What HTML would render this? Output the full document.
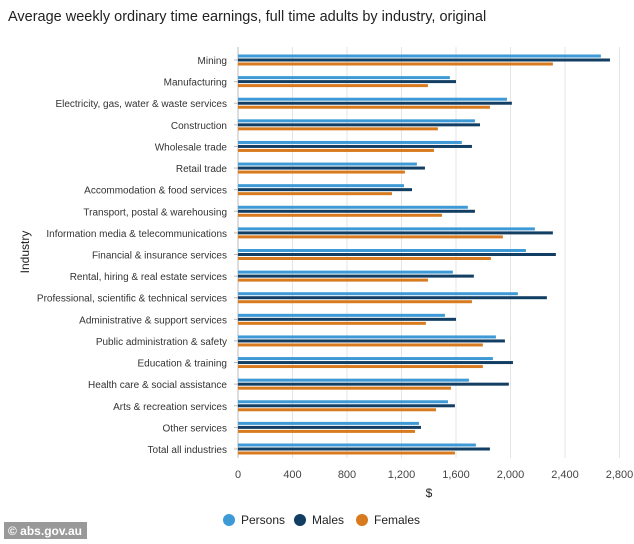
<!DOCTYPE html>
<html><head><meta charset="utf-8"><style>
body{margin:0;background:#fff;font-family:"Liberation Sans",sans-serif}
svg text{font-family:"Liberation Sans",sans-serif}
</style></head><body>
<svg id="c" width="634" height="539" viewBox="0 0 634 539">
<text x="8" y="21" font-size="14.5" fill="#222">Average weekly ordinary time earnings, full time adults by industry, original</text>
<text transform="translate(29,252) rotate(-90)" text-anchor="middle" font-size="12" fill="#222">Industry</text>
<text x="429" y="497" text-anchor="middle" font-size="12" fill="#222">$</text>
<g id="grid"></g><g id="bars"></g><g id="labels"></g>
<g>
<g><circle cx="229" cy="520" r="6" fill="#3d9ad6"/><text x="241" y="524" font-size="12" fill="#222">Persons</text></g>
<g><circle cx="300" cy="520" r="6" fill="#123e63"/><text x="312" y="524" font-size="12" fill="#222">Males</text></g>
<g><circle cx="362" cy="520" r="6" fill="#d87a1e"/><text x="374" y="524" font-size="12" fill="#222">Females</text></g>
</g>
<g><rect x="4" y="522" width="83" height="17" fill="#999"/><text x="8" y="535" font-size="12" font-weight="bold" fill="#fff">© abs.gov.au</text></g>
</svg>
<script>
const categories=["Mining","Manufacturing","Electricity, gas, water & waste services","Construction","Wholesale trade","Retail trade","Accommodation & food services","Transport, postal & warehousing","Information media & telecommunications","Financial & insurance services","Rental, hiring & real estate services","Professional, scientific & technical services","Administrative & support services","Public administration & safety","Education & training","Health care & social assistance","Arts & recreation services","Other services","Total all industries"];
const persons=[2663,1555,1974,1739,1643,1313,1218,1687,2179,2113,1577,2054,1519,1893,1871,1695,1541,1328,1746];
const males=[2730,1600,2010,1776,1717,1372,1277,1739,2311,2333,1731,2267,1600,1959,2018,1988,1592,1343,1849];
const females=[2311,1394,1849,1467,1438,1225,1130,1497,1944,1856,1394,1717,1379,1797,1797,1563,1453,1299,1592];
const ticks=[0,400,800,1200,1600,2000,2400,2800];
const tickLabels=["0","400","800","1,200","1,600","2,000","2,400","2,800"];
const NS="http://www.w3.org/2000/svg";
const x0=238,x1=619.5,yTop=47,yBot=458;
function xs(v){return x0+v/2800*(x1-x0);}
function yc(i){return 60+i*(449-60)/(categories.length-1);}
function mk(t,a,p){const e=document.createElementNS(NS,t);for(const k in a)e.setAttribute(k,a[k]);p.appendChild(e);return e;}
const g=document.getElementById('grid'),b=document.getElementById('bars'),l=document.getElementById('labels');
ticks.forEach((t,i)=>{
 const ln=mk('line',{x1:xs(t),x2:xs(t),y1:yTop,y2:yBot,stroke:i?'#e4e4e4':'#bbb','stroke-width':1},g);
 
 
 const tx=mk('text',{x:xs(t),y:478,'text-anchor':'middle','font-size':11,fill:'#444'},g);
 tx.textContent=tickLabels[i];
 
 
});
const series=[[persons,'#3d9ad6',-4,'persons'],[males,'#123e63',0,'males'],[females,'#d87a1e',4,'females']];
categories.forEach((c,i)=>{
 const y=yc(i);
 const t=mk('text',{x:227,y:y+4,'text-anchor':'end','font-size':10,fill:'#333'},l);
 t.textContent=c;
 
 
 mk('line',{x1:234,x2:238,y1:y,y2:y,stroke:'#bbb'},l);
 series.forEach(s=>{
  const r=mk('rect',{x:x0,y:y+s[2]-1.5,width:xs(s[0][i])-x0,height:3,fill:s[1]},b);
  
  
 });
});
</script>
</body></html>
